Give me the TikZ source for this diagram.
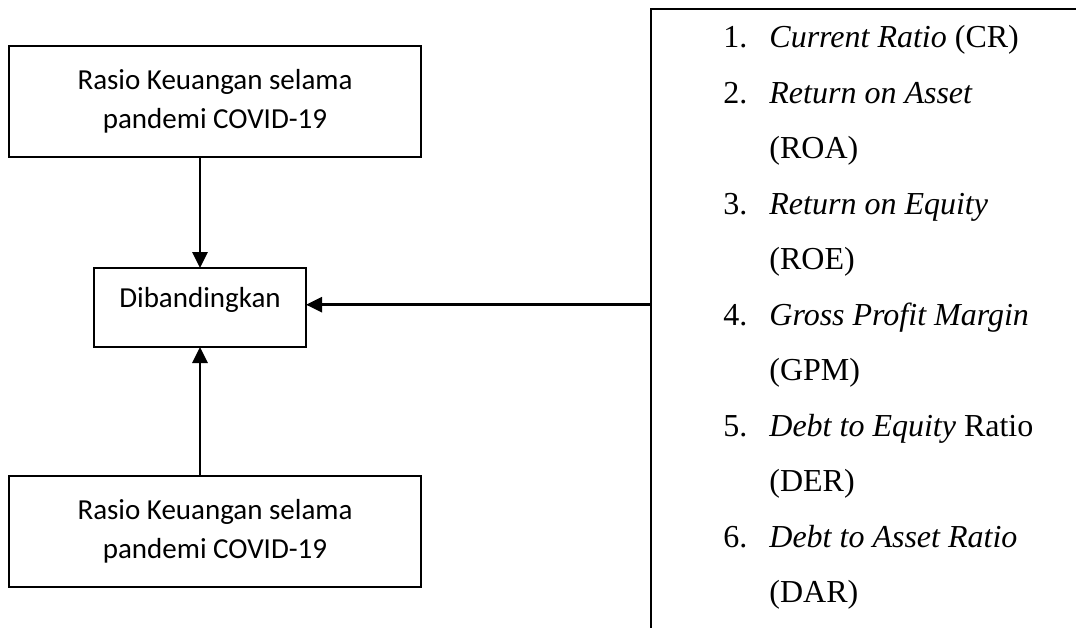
\documentclass[tikz,border=0pt]{standalone}
\usepackage{fontspec}
\setmainfont{Liberation Serif}
\newfontfamily\boxfont{Carlito}
\usetikzlibrary{arrows.meta,positioning}

\begin{document}
\begin{tikzpicture}[%
    x=1pt, y=-1pt,
    >={Triangle[length=16pt,width=15pt]},
    line width=2.8pt,
    box/.style={draw, rectangle, align=center, inner sep=0pt, outer sep=0pt,
      font=\boxfont\fontsize{29}{39}\selectfont},
    ratio/.style={box, minimum width=412pt, minimum height=111pt},
    compare/.style={box, minimum width=212pt, text height=39pt, text depth=40pt},
    listbox/.style={draw, inner sep=0pt, outer sep=0pt, anchor=north west,
      minimum width=500pt, minimum height=700pt}
  ]
    \clip (0,0) rectangle (1076,627);

    \node[ratio]   (A) at (215,101.5) {Rasio Keuangan selama\\pandemi COVID-19};
    \node[compare] (B) at (200,307.5) {Dibandingkan};
    \node[ratio]   (C) at (215,531.5) {Rasio Keuangan selama\\pandemi COVID-19};
    \node[listbox] (D) at (651,9) {};

    % the list of ratios inside the frame
    \node[anchor=north west, inner sep=0pt, font=\fontsize{32}{55.5}\selectfont]
      (L) at (722,7.5) {%
      \begin{tabular}{@{}p{46pt}@{}l@{}}
        1. & \textit{Current Ratio} (CR)\\
        2. & \textit{Return on Asset}\\
           & (ROA)\\
        3. & \textit{Return on Equity}\\
           & (ROE)\\
        4. & \textit{Gross Profit Margin}\\
           & (GPM)\\
        5. & \textit{Debt to Equity} Ratio\\
           & (DER)\\
        6. & \textit{Debt to Asset Ratio}\\
           & (DAR)
      \end{tabular}};

    \path[->] (A.south -| B.north)    edge (B.north)
              (C.north -| B.south)    edge (B.south)
              (D.west |- B.mid east)  edge (B.mid east);
\end{tikzpicture}
\end{document}
